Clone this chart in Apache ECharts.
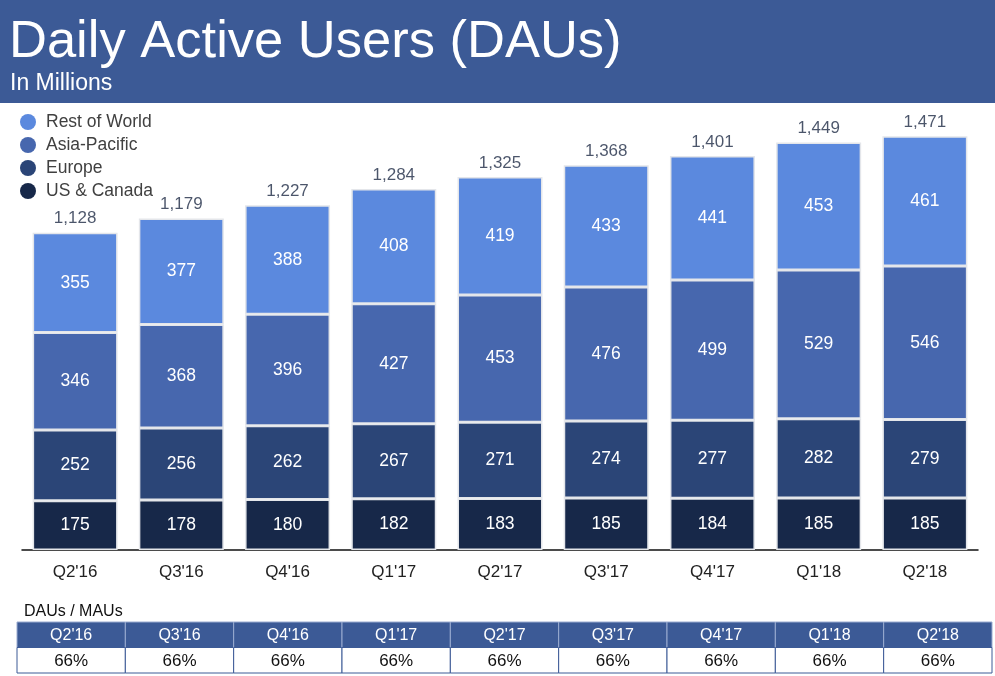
<!DOCTYPE html>
<html>
<head>
<meta charset="utf-8">
<script src="https://cdn.jsdelivr.net/npm/echarts@6/dist/echarts.min.js"></script>
<style>
html,body{margin:0;padding:0;background:#fff;}
#c{width:995px;height:676px;}
</style>
</head>
<body>
<div id="c"></div>
<script>
const quarters = ["Q2'16","Q3'16","Q4'16","Q1'17","Q2'17","Q3'17","Q4'17","Q1'18","Q2'18"];
const usCanada = [175,178,180,182,183,185,184,185,185];
const europe = [252,256,262,267,271,274,277,282,279];
const asiaPacific = [346,368,396,427,453,476,499,529,546];
const restOfWorld = [355,377,388,408,419,433,441,453,461];
const totals = [1128,1179,1227,1284,1325,1368,1401,1449,1471];
const dauMau = ["66%","66%","66%","66%","66%","66%","66%","66%","66%"];

const FONT = "'Liberation Sans', Arial, sans-serif";
const COLORS = {
  row: '#5b89de', ap: '#4767ae', eu: '#2b4577', us: '#172849', bar: '#3c5a96'
};

const chart = echarts.init(document.getElementById('c'), null, {renderer:'canvas'});

function seg(name, data, color){
  return {
    name, type:'bar', stack:'dau', data, barWidth:'80%',
    xAxisIndex:0, yAxisIndex:0,
    itemStyle:{color, borderColor:'#e4e6ea', borderWidth:1.5},
    label:{show:true, position:'inside', color:'#fff', fontSize:17.5, fontFamily:FONT},
    emphasis:{disabled:true}
  };
}

const tableData = [];
quarters.forEach((q,i)=>{ tableData.push([i,0]); tableData.push([i,1]); });

const option = {
  animation:false,
  backgroundColor:'#fff',
  graphic:[
    {type:'rect', left:0, top:0, shape:{width:995, height:103}, style:{fill:COLORS.bar}, z:-1},
    {type:'text', left:9, top:16, style:{text:'Daily Active Users (DAUs)', fill:'#fff', font:'52.5px '+FONT}},
    {type:'text', left:10, top:72, style:{text:'In Millions', fill:'#fff', font:'23px '+FONT}},
    {type:'text', left:24, top:604, style:{text:'DAUs / MAUs', fill:'#111', font:'16px '+FONT}}
  ],
  legend:{
    orient:'vertical', left:20, top:113, padding:0, icon:'circle', itemWidth:16, itemHeight:16, itemGap:5,
    data:['Rest of World','Asia-Pacific','Europe','US & Canada'],
    itemStyle:{borderWidth:0},
    textStyle:{fontSize:17.5, color:'#404040', fontFamily:FONT, padding:[0,0,0,5]},
    selectedMode:false
  },
  grid:[
    {left:22, right:17, top:100, bottom:126},
    {left:17, right:3, top:622, height:51}
  ],
  xAxis:[
    {type:'category', data:quarters, gridIndex:0,
     axisLine:{lineStyle:{color:'#111', width:1.5}}, axisTick:{show:false},
     axisLabel:{fontSize:17, color:'#222', fontFamily:FONT, margin:14}},
    {type:'category', data:quarters, gridIndex:1, show:false}
  ],
  yAxis:[
    {type:'value', min:0, max:1600, gridIndex:0, show:false, splitLine:{show:false}},
    {type:'category', data:['h','v'], inverse:true, gridIndex:1, show:false}
  ],
  series:[
    seg('US & Canada', usCanada, COLORS.us),
    seg('Europe', europe, COLORS.eu),
    seg('Asia-Pacific', asiaPacific, COLORS.ap),
    seg('Rest of World', restOfWorld, COLORS.row),
    {
      name:'Total', type:'scatter', data:totals, xAxisIndex:0, yAxisIndex:0,
      symbolSize:1, itemStyle:{color:'rgba(0,0,0,0)'}, silent:true, z:5,
      label:{show:true, position:'top', distance:5, color:'#1e2a45', fontSize:17, fontFamily:FONT,
        formatter:p=>p.value.toLocaleString('en-US')},
      emphasis:{disabled:true}
    },
    {
      name:'table', type:'custom', xAxisIndex:1, yAxisIndex:1, data:tableData, silent:true,
      renderItem:function(params, api){
        const xi = api.value(0), row = api.value(1);
        const c = api.coord([xi,row]);
        const s = api.size([1,1]);
        const header = row === 0;
        const txt = header ? quarters[xi] : dauMau[xi];
        return {type:'group', children:[
          {type:'rect', shape:{x:c[0]-s[0]/2, y:c[1]-s[1]/2, width:s[0], height:s[1]},
           style:{fill: header ? COLORS.bar : '#fff', stroke: header ? '#9aabd0' : COLORS.bar, lineWidth:1}},
          {type:'text', style:{text:txt, x:c[0], y:c[1]+1, align:'center', verticalAlign:'middle',
           fill: header ? '#fff' : '#111', font:(header?'16px ':'17px ')+FONT}}
        ]};
      }
    }
  ]
};
chart.setOption(option);
</script>
</body>
</html>
